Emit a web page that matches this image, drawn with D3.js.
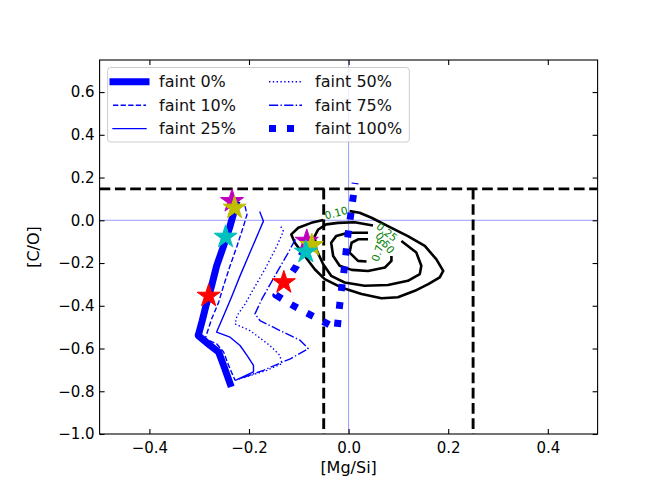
<!DOCTYPE html>
<html>
<head>
<meta charset="utf-8">
<script src="https://d3js.org/d3.v7.min.js"></script>
<style>
  body { margin: 0; background: #fff; }
  text { font-family: "DejaVu Sans", sans-serif; }
</style>
</head>
<body>
<svg id="drawing_region"></svg>
<script>
// tracks, [Mg/Si] , [C/O]
const faint0 = [[-0.226,0.074],[-0.238,-0.027],[-0.251,-0.120],[-0.265,-0.213],[-0.275,-0.306],[-0.286,-0.396],[-0.294,-0.471],[-0.302,-0.539],[-0.278,-0.586],[-0.261,-0.616],[-0.251,-0.679],[-0.238,-0.764]];
const faint10 = [[-0.208,0.066],[-0.204,0.027],[-0.211,-0.027],[-0.224,-0.120],[-0.238,-0.213],[-0.251,-0.306],[-0.261,-0.384],[-0.275,-0.461],[-0.288,-0.554],[-0.265,-0.578],[-0.251,-0.616],[-0.241,-0.679],[-0.228,-0.749]];
const faint25 = [[-0.178,0.038],[-0.171,-0.004],[-0.181,-0.058],[-0.201,-0.167],[-0.218,-0.260],[-0.234,-0.353],[-0.251,-0.447],[-0.265,-0.523],[-0.238,-0.547],[-0.218,-0.586],[-0.204,-0.632],[-0.191,-0.679],[-0.191,-0.709],[-0.224,-0.745]];
const faint50 = [[-0.136,-0.030],[-0.131,-0.051],[-0.144,-0.120],[-0.168,-0.229],[-0.191,-0.322],[-0.208,-0.392],[-0.224,-0.446],[-0.228,-0.485],[-0.198,-0.516],[-0.158,-0.586],[-0.138,-0.632],[-0.134,-0.671],[-0.164,-0.702],[-0.218,-0.741]];
const faint75 = [[-0.107,-0.089],[-0.121,-0.151],[-0.148,-0.260],[-0.174,-0.368],[-0.188,-0.438],[-0.178,-0.469],[-0.138,-0.516],[-0.097,-0.562],[-0.081,-0.601],[-0.117,-0.648],[-0.171,-0.702],[-0.228,-0.749]];
const faint100 = [[-0.089,-0.136],[-0.105,-0.215],[-0.146,-0.350],[-0.117,-0.392],[-0.085,-0.433],[-0.053,-0.471],[-0.023,-0.508],[-0.019,-0.420],[-0.015,-0.336],[-0.010,-0.252],[-0.006,-0.167],[-0.002,-0.081],[0.003,0.004],[0.008,0.089],[0.013,0.175]];
const trackLabels = ['faint 0%','faint 10%','faint 25%','faint 50%','faint 75%','faint 100%'];

// star markers (two sets of four)
const starMg = [-0.234,-0.229,-0.247,-0.281,-0.084,-0.074,-0.086,-0.130];
const starCO = [0.089,0.058,-0.078,-0.354,-0.097,-0.117,-0.148,-0.291];

// density contours, drawn open where the inline labels sit
const contour010 = [[0.002,0.043],[0.022,0.035],[0.046,0.012],[0.079,-0.027],[0.119,-0.074],[0.153,-0.120],[0.176,-0.182],[0.190,-0.237],[0.183,-0.267],[0.160,-0.299],[0.133,-0.330],[0.099,-0.360],[0.066,-0.365],[0.026,-0.345],[-0.015,-0.314],[-0.048,-0.275],[-0.068,-0.229],[-0.088,-0.167],[-0.108,-0.105],[-0.115,-0.066],[-0.101,-0.035],[-0.075,-0.012],[-0.051,0.001]];
const contour025 = [[0.106,-0.097],[0.136,-0.151],[0.146,-0.213],[0.143,-0.252],[0.119,-0.283],[0.079,-0.303],[0.032,-0.306],[-0.008,-0.291],[-0.035,-0.260],[-0.051,-0.206],[-0.065,-0.136],[-0.068,-0.074],[-0.061,-0.043],[-0.045,-0.019],[-0.021,-0.012],[0.012,-0.009],[0.049,-0.024]];
const contour050 = [[0.086,-0.167],[0.086,-0.190],[0.073,-0.221],[0.039,-0.237],[0.006,-0.232],[-0.018,-0.213],[-0.031,-0.167],[-0.035,-0.105],[-0.025,-0.074],[-0.001,-0.058],[0.039,-0.058]];
const contour075 = [[0.039,-0.089],[0.019,-0.089],[0.006,-0.105],[0.002,-0.151],[0.019,-0.190],[0.036,-0.193]];
const contourLevels = ['0.10','0.25','0.50','0.75'];
const contourLabelAt = [[-0.025,0.034],[0.077,-0.055],[0.073,-0.106],[0.060,-0.139]];

// selection cuts
const cutCO = 0.147;
const cutMg = [-0.05, 0.25];

const xTicks = [-0.4,-0.2,0.0,0.2,0.4];
const yTicks = [-1.0,-0.8,-0.6,-0.4,-0.2,0.0,0.2,0.4,0.6];

class TrackPlot {

    constructor( config ) {
        this.config = {
            parent: config.parent,
            width: config.width || 664,
            height: config.height || 498,
            margin: config.margin || {top:60, right:66.4, bottom:64, left:99.6}
        }
        this.init();
    }

    init() {
        let self = this;
        const m = self.config.margin;

        self.svg = d3.select( self.config.parent )
            .attr('width', self.config.width)
            .attr('height', self.config.height);

        self.left = m.left;
        self.right = self.config.width - m.right;
        self.top = m.top;
        self.bottom = self.config.height - m.bottom;

        self.xscale = d3.scaleLinear().domain([-0.5, 0.5]).range([self.left, self.right]);
        self.yscale = d3.scaleLinear().domain([-1.0, 0.75]).range([self.bottom, self.top]);

        self.line = d3.line()
            .x( d => self.xscale(d[0]) )
            .y( d => self.yscale(d[1]) );

        self.svg.append('clipPath').attr('id', 'plotclip')
            .append('rect')
            .attr('x', self.left).attr('y', self.top)
            .attr('width', self.right - self.left)
            .attr('height', self.bottom - self.top);

        self.plot = self.svg.append('g').attr('clip-path', 'url(#plotclip)');
    }

    render() {
        let self = this;
        const xs = self.xscale, ys = self.yscale;
        const fmt = d => d3.format('.1f')(d).replace('-', '\u2212');

        // zero lines
        self.plot.append('line')
            .attr('x1', xs(0)).attr('x2', xs(0))
            .attr('y1', self.top).attr('y2', self.bottom)
            .attr('stroke', '#0000ff').attr('stroke-opacity', 0.5).attr('stroke-width', 0.8);
        self.plot.append('line')
            .attr('x1', self.left).attr('x2', self.right)
            .attr('y1', ys(0)).attr('y2', ys(0))
            .attr('stroke', '#0000ff').attr('stroke-opacity', 0.5).attr('stroke-width', 0.8);

        // cuts
        const cut = self.plot.append('g')
            .attr('stroke', 'black').attr('stroke-width', 2.9)
            .attr('stroke-dasharray', '10.7,4.6').attr('fill', 'none');
        cut.append('line')
            .attr('x1', xs(-0.5)).attr('x2', xs(0.5))
            .attr('y1', ys(cutCO)).attr('y2', ys(cutCO));
        cut.selectAll('.vcut').data(cutMg).enter().append('line')
            .attr('x1', d => xs(d)).attr('x2', d => xs(d))
            .attr('y1', ys(cutCO)).attr('y2', ys(-1.0));

        // contours
        const contours = [contour010, contour025, contour050, contour075];
        self.plot.selectAll('.contour').data(contours).enter().append('path')
            .attr('d', self.line)
            .attr('fill', 'none').attr('stroke', 'black')
            .attr('stroke-width', 2.6).attr('stroke-linejoin', 'round');
        self.plot.selectAll('.clabel').data(contourLevels).enter().append('text')
            .attr('transform', (d, i) => `translate(${xs(contourLabelAt[i][0])},${ys(contourLabelAt[i][1])}) rotate(${[-15, 38, 52, -73][i]})`)
            .attr('text-anchor', 'middle').attr('dy', '0.35em')
            .attr('font-size', '10.5px').attr('fill', '#008000')
            .text(d => d);

        // tracks
        self.styles = [
            {w:7, dash:null, cap:'square'},
            {w:1.4, dash:'5.3,2.3', cap:'butt'},
            {w:1.4, dash:null, cap:'square'},
            {w:1.4, dash:'1.4,2.4', cap:'butt'},
            {w:1.4, dash:'9.2,2.3,1.4,2.3', cap:'butt'},
            {w:7, dash:'7,11', cap:'butt'}
        ];
        const tracks = [faint0, faint10, faint25, faint50, faint75, faint100];
        self.plot.selectAll('.track').data(tracks).enter().append('path')
            .attr('d', self.line)
            .attr('fill', 'none').attr('stroke', '#0000ff')
            .attr('stroke-width', (d, i) => self.styles[i].w)
            .attr('stroke-dasharray', (d, i) => self.styles[i].dash)
            .attr('stroke-linecap', (d, i) => self.styles[i].cap)
            .attr('stroke-linejoin', 'round');

        // stars
        const starColors = ['#bf00bf','#bfbf00','#00bfbf','#ff0000'];
        const order = [0, 4, 1, 5, 2, 6, 3, 7];
        const star = d3.symbol().type(d3.symbolStar).size(165);
        self.plot.selectAll('.star').data(order).enter().append('path')
            .attr('d', star)
            .attr('transform', i => `translate(${xs(starMg[i])},${ys(starCO[i])})`)
            .attr('fill', i => starColors[i % 4])
            .attr('stroke', i => starColors[i % 4]).attr('stroke-width', 1);

        // axes, ticks inside on all sides
        const axes = [
            [d3.axisBottom(xs).tickValues(xTicks).tickFormat(fmt).tickPadding(8.5), `translate(0,${self.bottom})`],
            [d3.axisTop(xs).tickValues(xTicks).tickFormat(''), `translate(0,${self.top})`],
            [d3.axisLeft(ys).tickValues(yTicks).tickFormat(fmt).tickPadding(5), `translate(${self.left},0)`],
            [d3.axisRight(ys).tickValues(yTicks).tickFormat(''), `translate(${self.right},0)`]
        ];
        axes.forEach( a => {
            const g = self.svg.append('g').attr('transform', a[1])
                .call(a[0].tickSizeInner(-5).tickSizeOuter(0));
            g.select('.domain').remove();
            g.selectAll('.tick line').attr('stroke', 'black').attr('stroke-width', 1.1);
            g.selectAll('text').attr('font-size', '15px').attr('fill', 'black')
                .style('font-family', '"DejaVu Sans", sans-serif');
        });

        self.svg.append('rect')
            .attr('x', self.left).attr('y', self.top)
            .attr('width', self.right - self.left).attr('height', self.bottom - self.top)
            .attr('fill', 'none').attr('stroke', 'black').attr('stroke-width', 1.1);

        self.svg.append('text')
            .attr('x', (self.left + self.right) / 2).attr('y', 473)
            .attr('text-anchor', 'middle').attr('font-size', '16px')
            .text('[Mg/Si]');
        self.svg.append('text')
            .attr('transform', `translate(39,${(self.top + self.bottom) / 2}) rotate(-90)`)
            .attr('text-anchor', 'middle').attr('font-size', '16px')
            .text('[C/O]');

        self.legend();
    }

    legend() {
        let self = this;
        const lg = self.svg.append('g');
        lg.append('rect')
            .attr('x', 107.6).attr('y', 67.5).attr('width', 301.7).attr('height', 74.5)
            .attr('rx', 3).attr('fill', 'white').attr('fill-opacity', 0.8)
            .attr('stroke', '#cccccc').attr('stroke-width', 1);
        const rows = [81.8, 105.2, 128.6];
        const cols = [113, 269];
        trackLabels.forEach( (label, i) => {
            const cx = cols[Math.floor(i / 3)], cy = rows[i % 3];
            const s = self.styles[i];
            lg.append('line')
                .attr('x1', cx).attr('x2', cx + 33).attr('y1', cy).attr('y2', cy)
                .attr('stroke', '#0000ff').attr('stroke-width', s.w)
                .attr('stroke-dasharray', s.dash).attr('stroke-linecap', s.cap);
            lg.append('text')
                .attr('x', cx + 46).attr('y', cy).attr('dy', '0.35em')
                .attr('font-size', '16px').attr('fill', '#111')
                .text(label);
        });
    }
}

const plot = new TrackPlot( {parent: '#drawing_region', width: 664, height: 498} );
plot.render();
</script>
</body>
</html>
